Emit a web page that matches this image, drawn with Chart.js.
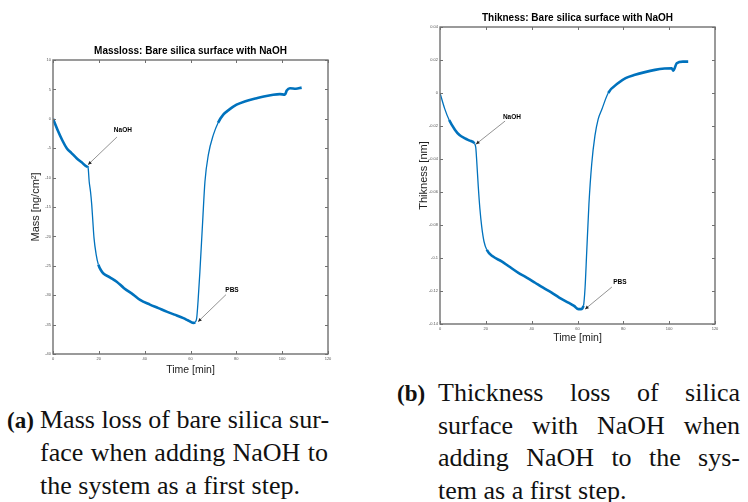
<!DOCTYPE html>
<html>
<head>
<meta charset="utf-8">
<script src="https://cdn.jsdelivr.net/npm/chart.js@4.4.0/dist/chart.umd.min.js"></script>
<style>
  body { margin: 0; width: 748px; height: 502px; background: #fff; position: relative; overflow: hidden; }
  canvas { position: absolute; top: 0; }
  #massChart { left: 0; }
  #thickChart { left: 374px; }
  .cap { position: absolute; font-family: "Liberation Serif", serif; font-size: 26px; line-height: 33px; color: #111; white-space: nowrap; }
  .tag { font-weight: bold; font-size: 23px; }
  .just { text-align: justify; text-align-last: justify; }
</style>
</head>
<body>
<canvas id="massChart" width="374" height="380"></canvas>
<canvas id="thickChart" width="374" height="350"></canvas>

<div class="cap tag" style="left:7px;top:404px;">(a)</div>
<div class="cap just" style="left:40px;top:403px;width:288px;">Mass loss of bare silica sur-</div>
<div class="cap just" style="left:40px;top:436px;width:288px;">face when adding NaOH to</div>
<div class="cap" style="left:40px;top:469px;">the system as a first step.</div>

<div class="cap tag" style="left:397px;top:377px;">(b)</div>
<div class="cap just" style="left:438px;top:376px;width:302px;">Thickness loss of silica</div>
<div class="cap just" style="left:438px;top:409px;width:302px;">surface with NaOH when</div>
<div class="cap just" style="left:438px;top:441px;width:302px;">adding NaOH to the sys-</div>
<div class="cap" style="left:438px;top:474px;">tem as a first step.</div>

<script>
// (a) mass, ng/cm2, against time in minutes
const timeA = [0, 2, 4, 6, 8, 10.3, 12.5, 14.7, 15.3, 15.8, 16.4, 16.9, 17.4, 17.9, 18.8, 19.8, 21, 22, 25, 27.8,
  31, 35, 38, 42.3, 46, 49.6, 53, 56.9, 59, 61.2, 62, 62.7, 63.3, 64.1, 65.3, 66.3, 67.8, 70, 72, 74.3,
  77, 80.1, 84, 88.9, 92, 96.1, 99, 101.2, 102, 103.4, 106, 108.5];
const massA = [0, -1.9, -3.6, -5.0, -5.8, -6.7, -7.4, -8.1, -8.3, -10.7, -12.5, -14.6, -17.5, -20.3, -23, -24.8, -25.8, -26.3, -27, -27.7,
  -28.8, -29.9, -30.8, -31.6, -32.2, -32.8, -33.3, -33.9, -34.3, -34.7, -34.6, -33.9, -31, -26, -17.5, -10.7, -6.1, -2.7, -0.7, 0.7,
  1.6, 2.4, 3.0, 3.5, 3.8, 4.1, 4.2, 4.1, 4.8, 5.2, 5.1, 5.3];

// (b) thickness, nm, against time in minutes
const timeB = [0, 2, 4, 6.5, 8.5, 10.9, 13, 15, 15.6, 16, 16.7, 17.4, 18.2, 19.2, 20.4, 23, 26.9, 30, 34.2, 38,
  41.5, 45, 48.7, 52, 56, 58.5, 60.4, 61.5, 62.6, 63.3, 64, 65, 66.2, 67.6, 69, 70.6, 73.4, 77.8, 81, 85.1,
  89, 93.8, 98, 101.1, 101.8, 103.3, 106, 108.3];
const thickB = [0, -0.0093, -0.0164, -0.0222, -0.0255, -0.0275, -0.0289, -0.0305, -0.033, -0.0406, -0.0567, -0.070, -0.081, -0.090, -0.095, -0.099, -0.102, -0.105, -0.109, -0.112,
  -0.115, -0.118, -0.121, -0.124, -0.127, -0.129, -0.131, -0.131, -0.129, -0.118, -0.097, -0.067, -0.043, -0.026, -0.016, -0.010, 0, 0.006, 0.009, 0.011,
  0.0125, 0.014, 0.0148, 0.015, 0.0135, 0.018, 0.019, 0.019];

const timeTicks = [0, 20, 40, 60, 80, 100, 120];
const massTicks = [-40, -35, -30, -25, -20, -15, -10, -5, 0, 5, 10];
const thickTicks = [-0.14, -0.12, -0.1, -0.08, -0.06, -0.04, -0.02, 0, 0.02, 0.04];

// arrow notes, in data units: label spot, arrow start, arrow tip
const notesA = [
  { label: "NaOH", at: [30.5, -2.0], from: [27.9, -3.1], to: [15.3, -7.8] },
  { label: "PBS", at: [78.1, -29.1], from: [75.5, -29.9], to: [63.3, -34.5] },
];
const notesB = [
  { label: "NaOH", at: [31.4, -0.0145], from: [28.4, -0.017], to: [15.7, -0.031] },
  { label: "PBS", at: [78.5, -0.1145], from: [75, -0.1176], to: [63.3, -0.131] },
];

const blue = "#0072BD";
const sans = "'Liberation Sans', Arial, sans-serif";

// matlab-ish box with ticks pointing inwards
const frameTicks = {
  id: "frameTicks",
  afterDraw(chart) {
    const { ctx, chartArea: a, scales: { x, y } } = chart;
    ctx.save();
    ctx.strokeStyle = "#707070";
    ctx.lineWidth = 1;
    ctx.beginPath();
    x.ticks.forEach(t => {
      const px = Math.round(x.getPixelForValue(t.value)) + 0.5;
      ctx.moveTo(px, a.bottom); ctx.lineTo(px, a.bottom - 3);
      ctx.moveTo(px, a.top); ctx.lineTo(px, a.top + 3);
    });
    y.ticks.forEach(t => {
      const py = Math.round(y.getPixelForValue(t.value)) + 0.5;
      ctx.moveTo(a.left, py); ctx.lineTo(a.left + 3, py);
      ctx.moveTo(a.right, py); ctx.lineTo(a.right - 3, py);
    });
    ctx.stroke();
    ctx.lineWidth = 1.4;
    ctx.strokeRect(Math.round(a.left), Math.round(a.top), Math.round(a.width), Math.round(a.height));
    ctx.restore();
  }
};

const arrowNotes = {
  id: "arrowNotes",
  afterDatasetsDraw(chart, args, opts) {
    const { ctx, scales: { x, y } } = chart;
    ctx.save();
    (opts.items || []).forEach(n => {
      const x0 = x.getPixelForValue(n.from[0]), y0 = y.getPixelForValue(n.from[1]);
      const x1 = x.getPixelForValue(n.to[0]), y1 = y.getPixelForValue(n.to[1]);
      ctx.strokeStyle = "#777";
      ctx.lineWidth = 0.8;
      ctx.beginPath();
      ctx.moveTo(x0, y0);
      ctx.lineTo(x1, y1);
      ctx.stroke();
      const ang = Math.atan2(y1 - y0, x1 - x0);
      ctx.fillStyle = "#222";
      ctx.beginPath();
      ctx.moveTo(x1, y1);
      ctx.lineTo(x1 - 4 * Math.cos(ang - 0.45), y1 - 4 * Math.sin(ang - 0.45));
      ctx.lineTo(x1 - 4 * Math.cos(ang + 0.45), y1 - 4 * Math.sin(ang + 0.45));
      ctx.closePath();
      ctx.fill();
      ctx.fillStyle = "#000";
      ctx.font = "bold 6.5px " + sans;
      ctx.textAlign = "center";
      ctx.textBaseline = "middle";
      ctx.fillText(n.label, x.getPixelForValue(n.at[0]), y.getPixelForValue(n.at[1]));
    });
    ctx.restore();
  }
};

function fmt(v) {
  return String(Number(v.toFixed(2)));
}

function makeChart(id, xs, ys, cfg) {
  const ctx = document.getElementById(id).getContext("2d");
  return new Chart(ctx, {
    type: "line",
    data: {
      datasets: [{
        data: xs.map((t, i) => ({ x: t, y: ys[i] })),
        borderColor: blue,
        borderWidth: 2.4,
        pointRadius: 0,
        fill: false,
        cubicInterpolationMode: "monotone",
        segment: {
          // the noise band is wide on the slow parts, thin on the steep ones
          borderWidth: c => Math.abs(c.p1.y - c.p0.y) > 2.5 * Math.abs(c.p1.x - c.p0.x) ? 1.3 : 2.6,
        },
      }],
    },
    options: {
      responsive: false,
      devicePixelRatio: 1,
      animation: false,
      layout: { padding: { left: 0, right: cfg.padRight, top: 0, bottom: 0 } },
      plugins: {
        legend: { display: false },
        tooltip: { enabled: false },
        title: {
          display: true,
          text: cfg.title,
          fullSize: false,
          color: "#000",
          font: { family: sans, size: 10, weight: "bold", lineHeight: 1.2 },
          padding: { top: cfg.titleTop, bottom: 3 },
        },
        arrowNotes: { items: cfg.notes },
      },
      scales: {
        x: {
          type: "linear",
          min: 0,
          max: 120,
          afterBuildTicks: s => { s.ticks = timeTicks.map(v => ({ value: v })); },
          afterFit: s => { s.height = 26; },
          grid: { display: false, drawTicks: false },
          border: { display: false },
          ticks: { font: { family: sans, size: 4 }, color: "#555", padding: 2, maxRotation: 0, autoSkip: false },
          title: { display: true, text: "Time [min]", color: "#222", font: { family: sans, size: 10.5 }, padding: { top: 0, bottom: cfg.xTitlePad } },
        },
        y: {
          type: "linear",
          min: cfg.yMin,
          max: cfg.yMax,
          afterBuildTicks: s => { s.ticks = cfg.yTicks.map(v => ({ value: v })); },
          afterFit: s => { s.width = cfg.yWidth; },
          grid: { display: false, drawTicks: false },
          border: { display: false },
          ticks: { font: { family: sans, size: 4 }, color: "#555", padding: 2, autoSkip: false, callback: fmt },
          title: { display: true, text: cfg.yTitle, color: "#222", font: { family: sans, size: 11 }, padding: { top: cfg.yTitlePad, bottom: 0 } },
        },
      },
    },
    plugins: [frameTicks, arrowNotes],
  });
}

makeChart("massChart", timeA, massA, {
  title: "Massloss: Bare silica surface with NaOH",
  titleTop: 45,
  padRight: 46,
  yWidth: 53,
  yMin: -40,
  yMax: 10,
  yTicks: massTicks,
  yTitle: "Mass [ng/cm\u00B2]",
  yTitlePad: 29,
  xTitlePad: 4,
  notes: notesA,
});

makeChart("thickChart", timeB, thickB, {
  title: "Thikness: Bare silica surface with NaOH",
  titleTop: 12,
  padRight: 33,
  yWidth: 66,
  yMin: -0.14,
  yMax: 0.04,
  yTicks: thickTicks,
  yTitle: "Thikness [nm]",
  yTitlePad: 43,
  xTitlePad: 6,
  notes: notesB,
});
</script>
</body>
</html>
